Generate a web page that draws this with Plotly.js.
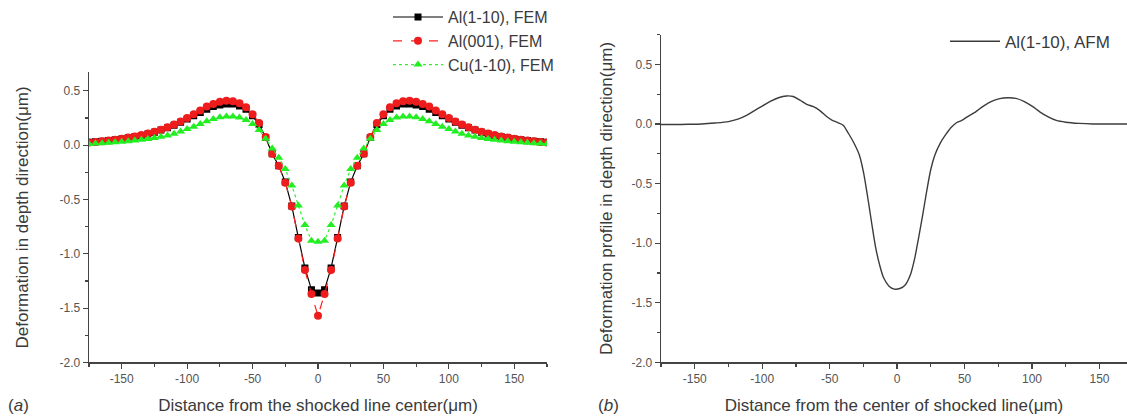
<!DOCTYPE html>
<html>
<head>
<meta charset="utf-8">
<script src="https://cdn.plot.ly/plotly-3.0.1.min.js"></script>
<style>
  html, body { margin: 0; padding: 0; background: #fff; }
  #chart { width: 1127px; height: 419px; }
</style>
</head>
<body>
<div id="chart"></div>
<script>
// ---------- data ----------
const femX = [-175,-170,-165,-160,-155,-150,-145,-140,-135,-130,-125,-120,-115,-110,-105,-100,-95,-90,-85,-80,-75,-70,-65,-60,-55,-50,-45,-40,-35,-30,-25,-20,-15,-10,-5,0,5,10,15,20,25,30,35,40,45,50,55,60,65,70,75,80,85,90,95,100,105,110,115,120,125,130,135,140,145,150,155,160,165,170,175];

const al110FEM = [0.028,0.032,0.037,0.043,0.05,0.058,0.068,0.078,0.09,0.104,0.12,0.139,0.16,0.183,0.21,0.24,0.27,0.30,0.33,0.355,0.37,0.38,0.38,0.36,0.33,0.27,0.19,0.07,-0.08,-0.19,-0.34,-0.56,-0.85,-1.13,-1.33,-1.36,-1.33,-1.13,-0.85,-0.56,-0.34,-0.19,-0.08,0.07,0.19,0.27,0.33,0.36,0.38,0.38,0.37,0.355,0.33,0.30,0.27,0.24,0.21,0.183,0.16,0.139,0.12,0.104,0.09,0.078,0.068,0.058,0.05,0.043,0.037,0.032,0.028];

const al001FEM = [0.025,0.03,0.036,0.043,0.05,0.06,0.07,0.08,0.093,0.107,0.123,0.143,0.165,0.19,0.218,0.25,0.285,0.32,0.355,0.38,0.40,0.41,0.405,0.385,0.35,0.285,0.205,0.075,-0.08,-0.19,-0.345,-0.565,-0.86,-1.15,-1.37,-1.57,-1.37,-1.15,-0.86,-0.565,-0.345,-0.19,-0.08,0.075,0.205,0.285,0.35,0.385,0.405,0.41,0.40,0.38,0.355,0.32,0.285,0.25,0.218,0.19,0.165,0.143,0.123,0.107,0.093,0.08,0.07,0.06,0.05,0.043,0.036,0.03,0.025];

const cu110FEM = [0.012,0.015,0.018,0.022,0.027,0.032,0.037,0.043,0.05,0.057,0.066,0.077,0.09,0.105,0.125,0.15,0.17,0.195,0.22,0.24,0.258,0.265,0.265,0.255,0.232,0.195,0.14,0.06,-0.03,-0.115,-0.22,-0.37,-0.555,-0.735,-0.88,-0.89,-0.88,-0.735,-0.555,-0.37,-0.22,-0.115,-0.03,0.06,0.14,0.195,0.232,0.255,0.265,0.265,0.258,0.24,0.22,0.195,0.17,0.15,0.125,0.105,0.09,0.077,0.066,0.057,0.05,0.043,0.037,0.032,0.027,0.022,0.018,0.015,0.012];

const afmX = [-175,-165,-155,-145,-135,-125,-118,-112,-106,-100,-94,-88,-82,-77,-72,-67,-62,-57,-52,-48,-44,-40,-36,-32,-28,-25,-22,-19,-16,-13,-10,-6,-2,2,6,10,13,16,19,22,25,28,32,36,40,44,48,52,58,64,70,76,82,88,94,100,106,112,118,125,135,145,160,171];
const al110AFM = [-0.005,-0.005,-0.003,0.0,0.008,0.02,0.04,0.07,0.11,0.15,0.19,0.22,0.235,0.23,0.2,0.165,0.145,0.11,0.06,0.03,0.012,-0.01,-0.08,-0.16,-0.26,-0.4,-0.6,-0.82,-1.03,-1.18,-1.29,-1.36,-1.385,-1.38,-1.35,-1.26,-1.13,-0.95,-0.76,-0.56,-0.38,-0.26,-0.16,-0.09,-0.03,0.01,0.03,0.06,0.1,0.15,0.19,0.212,0.22,0.215,0.19,0.15,0.1,0.06,0.03,0.015,0.005,0.0,0.0,0.0];

const seriesNames = ['Al(1-10), FEM', 'Al(001), FEM', 'Cu(1-10), FEM', 'Al(1-10), AFM'];
const xTickVals = [-150,-100,-50,0,50,100,150];
const xTickText = ['-150','-100','-50','0','50','100','150'];
const yTickVals = [-2,-1.5,-1,-0.5,0,0.5];
const yTickText = ['-2.0','-1.5','-1.0','-0.5','0.0','0.5'];

// ---------- layout helpers ----------
const W = 1127, H = 419;
const FONT = '"Liberation Sans", Arial, sans-serif';
const TXT = '#3a3a3a';
const AX = '#444444';

function xAxis(domain, range, title, standoff) {
  return {
    domain: domain, range: range,
    tickmode: 'array', tickvals: xTickVals, ticktext: xTickText,
    ticks: 'outside', ticklen: 5, tickwidth: 1.2, tickcolor: AX,
    minor: { tickmode: 'linear', tick0: 25, dtick: 50, ticks: 'outside', ticklen: 3, tickwidth: 1.2, tickcolor: AX },
    showline: true, linecolor: AX, linewidth: 1.4,
    showgrid: false, zeroline: false,
    tickfont: { family: FONT, size: 12, color: '#555' },
    title: { text: title, font: { family: FONT, size: 17, color: TXT }, standoff: standoff },
    fixedrange: true
  };
}
function yAxis(domain, range, title, anchor, standoff) {
  return {
    domain: domain, range: range, anchor: anchor,
    tickmode: 'array', tickvals: yTickVals, ticktext: yTickText,
    ticks: 'outside', ticklen: 5, tickwidth: 1.2, tickcolor: AX,
    minor: { tickmode: 'linear', tick0: 0.25, dtick: 0.5, ticks: 'outside', ticklen: 3, tickwidth: 1.2, tickcolor: AX },
    showline: true, linecolor: AX, linewidth: 1.4,
    showgrid: false, zeroline: false,
    tickfont: { family: FONT, size: 12, color: '#555' },
    title: { text: title, font: { family: FONT, size: 17, color: TXT }, standoff: standoff },
    fixedrange: true
  };
}

const traces = [
  { x: femX, y: al110FEM, name: seriesNames[0], type: 'scatter', mode: 'lines+markers',
    xaxis: 'x', yaxis: 'y', legend: 'legend',
    line: { color: '#000000', width: 1.2 },
    marker: { symbol: 'square', size: 7, color: '#000000' } },
  { x: femX, y: al001FEM, name: seriesNames[1], type: 'scatter', mode: 'lines+markers',
    xaxis: 'x', yaxis: 'y', legend: 'legend',
    line: { color: '#ff2020', width: 1.2, dash: 'dash' },
    marker: { symbol: 'circle', size: 8, color: '#ee1c1c' } },
  { x: femX, y: cu110FEM, name: seriesNames[2], type: 'scatter', mode: 'lines+markers',
    xaxis: 'x', yaxis: 'y', legend: 'legend',
    line: { color: '#33ee33', width: 1.2, dash: 'dot' },
    marker: { symbol: 'triangle-up', size: 8, color: '#22ee22' } },
  { x: afmX, y: al110AFM, name: seriesNames[3], type: 'scatter', mode: 'lines',
    xaxis: 'x2', yaxis: 'y2', legend: 'legend2',
    line: { color: '#3c3c3c', width: 1.4, shape: 'spline', smoothing: 0.8 } }
];

const layout = {
  width: W, height: H,
  margin: { l: 0, r: 0, t: 0, b: 0 },
  paper_bgcolor: '#ffffff', plot_bgcolor: '#ffffff',
  font: { family: FONT, color: TXT },
  showlegend: true,
  xaxis: xAxis([89 / W, 547 / W], [-175, 175], 'Distance from the shocked line center(μm)', 14),
  yaxis: yAxis([(H - 361.5) / H, (H - 66.5) / H], [-2, 0.67], 'Deformation in depth direction(μm)', 'x', 26),
  xaxis2: xAxis([661 / W, 1], [-175, 170.4], 'Distance from the center of shocked line(μm)', 14),
  yaxis2: yAxis([(H - 361.5) / H, (H - 28) / H], [-2, 0.75], 'Deformation profile in depth direction(μm)', 'x2', 14),
  legend: {
    x: 388 / W, y: (H + 7) / H, xanchor: 'left', yanchor: 'top',
    bgcolor: 'rgba(0,0,0,0)', borderwidth: 0,
    font: { family: FONT, size: 16, color: TXT },
    itemwidth: 50, tracegroupgap: 0
  },
  legend2: {
    x: 945 / W, y: (H - 17) / H, xanchor: 'left', yanchor: 'top',
    bgcolor: 'rgba(0,0,0,0)', borderwidth: 0,
    font: { family: FONT, size: 17, color: TXT },
    itemwidth: 50
  },
  annotations: [
    { text: '(<i>a</i>)', xref: 'paper', yref: 'paper', x: 6 / W, y: (H - 405) / H,
      xanchor: 'left', yanchor: 'middle', showarrow: false,
      font: { family: FONT, size: 17, color: TXT } },
    { text: '(<i>b</i>)', xref: 'paper', yref: 'paper', x: 596 / W, y: (H - 405) / H,
      xanchor: 'left', yanchor: 'middle', showarrow: false,
      font: { family: FONT, size: 17, color: TXT } }
  ]
};

Plotly.newPlot('chart', traces, layout, { displayModeBar: false, staticPlot: true });
</script>
</body>
</html>
